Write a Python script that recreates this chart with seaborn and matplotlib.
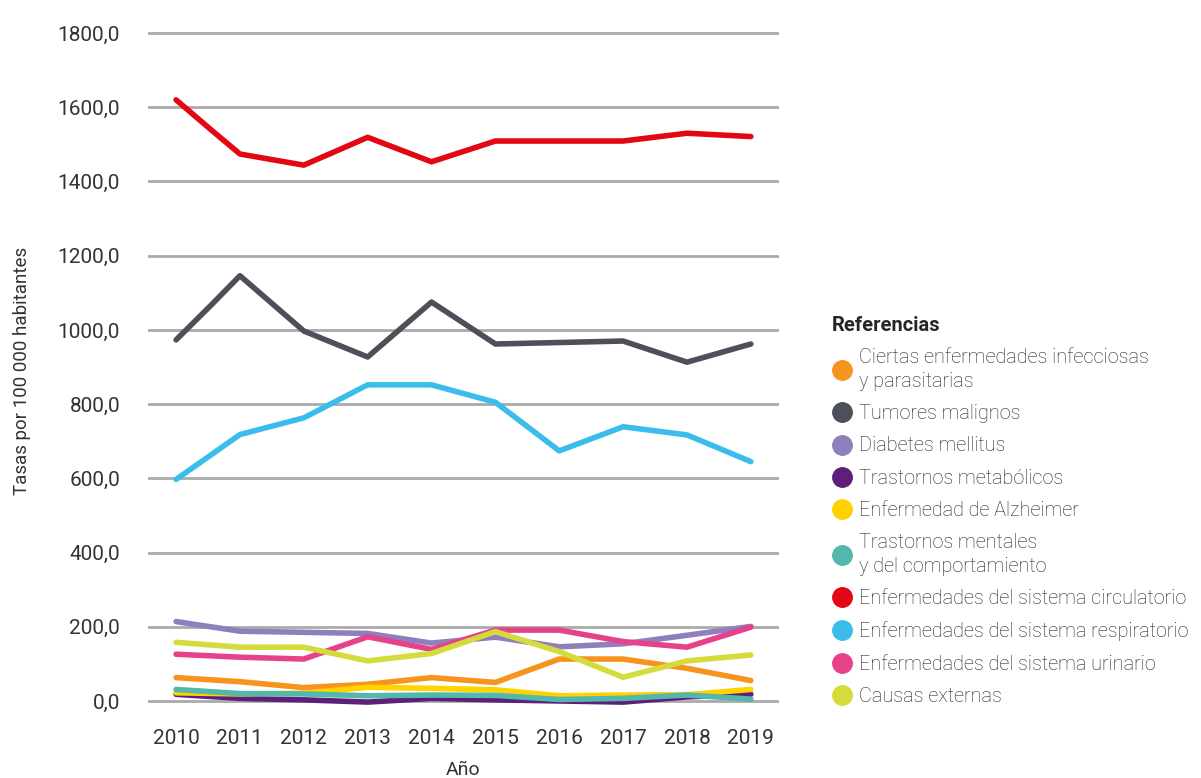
import matplotlib
matplotlib.use('Agg')
import matplotlib.pyplot as plt
from matplotlib.lines import Line2D
import numpy as np
import pandas as pd
import seaborn as sns

# data (rates per 100 000 inhabitants)
years = [2010, 2011, 2012, 2013, 2014, 2015, 2016, 2017, 2018, 2019]
# the two top series have an extra kink between 2010 and 2011
years_kink = [2010, 2010.55, 2011, 2012, 2013, 2014, 2015, 2016, 2017, 2018, 2019]

infecciosas = [63, 52, 36, 45, 63, 50, 113, 113, 88, 55]
tumores = [973, 1067, 1146, 997, 927, 1075, 962, 966, 970, 913, 962]
diabetes = [214, 188, 185, 182, 156, 172, 146, 154, 177, 201]
metabolicos = [18, 7, 3, -3, 7, 3, 0, -3, 11, 18]
alzheimer = [22, 19, 21, 37, 34, 30, 14, 16, 17, 31]
mentales = [31, 20, 19, 14, 16, 15, 4, 7, 16, 5]
circulatorio = [1620, 1539, 1474, 1444, 1519, 1453, 1509, 1509, 1509, 1530, 1521]
respiratorio = [597, 718, 763, 852, 852, 805, 674, 739, 717, 645]
urinario = [126, 118, 113, 173, 139, 191, 191, 160, 145, 199]
externas = [158, 145, 145, 108, 128, 187, 133, 64, 108, 124]

labels = ['Ciertas enfermedades infecciosas\ny parasitarias',
          'Tumores malignos',
          'Diabetes mellitus',
          'Trastornos metabólicos',
          'Enfermedad de Alzheimer',
          'Trastornos mentales\ny del comportamiento',
          'Enfermedades del sistema circulatorio',
          'Enfermedades del sistema respiratorio',
          'Enfermedades del sistema urinario',
          'Causas externas']
series = [infecciosas, tumores, diabetes, metabolicos, alzheimer,
          mentales, circulatorio, respiratorio, urinario, externas]
colors = ['#F7941D', '#4D5059', '#8F80BD', '#5E1F7A', '#FFD200',
          '#52B8AE', '#E30613', '#3BBDEB', '#E8418C', '#D4DB3A']
yticks = [0, 200, 400, 600, 800, 1000, 1200, 1400, 1600, 1800]

# build a long table for seaborn
rows = []
for lab, vals in zip(labels, series):
    xs = years_kink if len(vals) == len(years_kink) else years
    for x, v in zip(xs, vals):
        rows.append({'year': x, 'tasa': v, 'causa': lab})
df = pd.DataFrame(rows)

sns.set_style('white')
plt.rcParams['font.family'] = ['Roboto', 'DejaVu Sans']

fig = plt.figure(figsize=(12.01, 7.78), dpi=100)
ax = fig.add_axes([0.1232, 0.0847, 0.5254, 0.8776])

# draw order: lower series first, big ones on top
draw_order = [5, 4, 3, 0, 9, 2, 8, 7, 1, 6]
for i in draw_order:
    sub = df[df['causa'] == labels[i]]
    sns.lineplot(data=sub, x='year', y='tasa', color=colors[i], ax=ax,
                 linewidth=4, estimator=None, sort=True, legend=False,
                 zorder=3 + i)

ax.set_xlim(2009.56, 2019.44)
ax.set_ylim(-30, 1810)
ax.set_yticks(yticks)
ax.set_yticklabels([f'{v},0' for v in yticks])
ax.set_xticks(years)
ax.set_xticklabels([str(y) for y in years])
ax.tick_params(axis='both', length=0, labelsize=15, labelcolor='#333333')
ax.tick_params(axis='y', pad=20)
ax.tick_params(axis='x', pad=12.5)
ax.yaxis.grid(True, color='#AAAAAA', linewidth=2)
ax.xaxis.grid(False)
ax.set_axisbelow(True)
for s in ax.spines.values():
    s.set_visible(False)

ax.set_xlabel('Año', fontsize=14, color='#333333', labelpad=9)
ax.set_ylabel('Tasas por 100 000 habitantes', fontsize=13.5, color='#333333',
              labelpad=19)

handles = [Line2D([0], [0], marker='o', linestyle='none', markersize=14,
                  markerfacecolor=c, markeredgecolor=c) for c in colors]
leg = fig.legend(handles, labels, loc='upper left',
                 bbox_to_anchor=(0.686, 0.604), frameon=False,
                 title='Referencias', alignment='left',
                 prop={'size': 14.3, 'weight': 'light'}, handletextpad=0.35,
                 labelspacing=0.67, handlelength=1.0, borderaxespad=0)
leg.get_title().set_fontweight('bold')
leg.get_title().set_fontsize(14.5)
for t in leg.get_texts():
    t.set_color('#222222')
    t.set_linespacing(1.3)

plt.savefig('out.png', dpi=100)
